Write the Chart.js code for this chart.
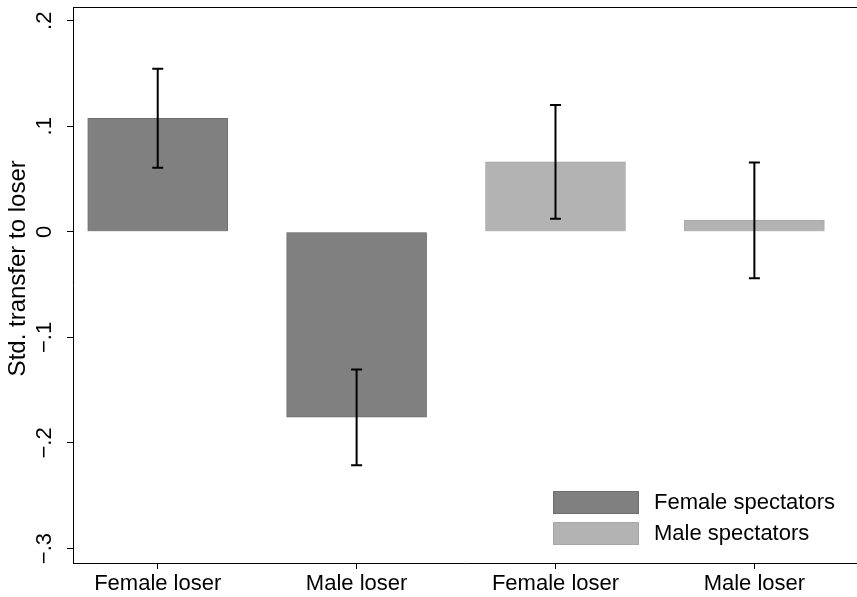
<!DOCTYPE html>
<html>
<head>
<meta charset="utf-8">
<script src="https://cdn.jsdelivr.net/npm/chart.js@4.4.0/dist/chart.umd.min.js"></script>
<style>
  body { margin: 0; background: #fff; overflow: hidden; }
</style>
</head>
<body>
<canvas id="myChart" width="857" height="597"></canvas>
<script>
const categories = ["Female loser", "Male loser", "Female loser", "Male loser"];
const seriesNames = ["Female spectators", "Male spectators"];
const femaleSpectators = [0.1076, -0.1755];
const maleSpectators = [0.0664, 0.0111];
const ciLow = [0.0607, -0.2211, 0.0123, -0.0439];
const ciHigh = [0.1544, -0.1303, 0.1202, 0.0658];
const yTicks = [-0.3, -0.2, -0.1, 0, 0.1, 0.2];
const yTickLabels = ["\u2212.3", "\u2212.2", "\u2212.1", "0", ".1", ".2"];

const darkGray = "#808080";
const lightGray = "#b3b3b3";

Chart.defaults.font.family = "'Liberation Sans', Arial, sans-serif";
Chart.defaults.color = "#000";

// error bars drawn on top of the bars
const errorBars = {
  id: "errorBars",
  afterDatasetsDraw(chart) {
    const ctx = chart.ctx;
    const xs = chart.scales.x;
    const ys = chart.scales.y;
    ctx.save();
    ctx.strokeStyle = "#000";
    ctx.lineWidth = 2;
    for (let i = 0; i < categories.length; i++) {
      const x = xs.getPixelForValue(i + 1);
      const lo = ys.getPixelForValue(ciLow[i]);
      const hi = ys.getPixelForValue(ciHigh[i]);
      ctx.beginPath();
      ctx.moveTo(x, lo);
      ctx.lineTo(x, hi);
      ctx.moveTo(x - 5.5, lo);
      ctx.lineTo(x + 5.5, lo);
      ctx.moveTo(x - 5.5, hi);
      ctx.lineTo(x + 5.5, hi);
      ctx.stroke();
    }
    ctx.restore();
  },
};

// top frame line + legend inside the plot
const frameAndLegend = {
  id: "frameAndLegend",
  afterDraw(chart) {
    const ctx = chart.ctx;
    const area = chart.chartArea;
    ctx.save();
    ctx.strokeStyle = "#000";
    ctx.lineWidth = 1;
    ctx.beginPath();
    ctx.moveTo(area.left, area.top + 0.5);
    ctx.lineTo(area.right, area.top + 0.5);
    ctx.stroke();

    const fills = [darkGray, lightGray];
    const borders = ["#6e6e6e", "#a6a6a6"];
    ctx.font = "22px 'Liberation Sans', Arial, sans-serif";
    ctx.textBaseline = "middle";
    ctx.textAlign = "left";
    for (let i = 0; i < seriesNames.length; i++) {
      const top = 491 + i * 31;
      ctx.fillStyle = fills[i];
      ctx.fillRect(553, top, 86, 23);
      ctx.strokeStyle = borders[i];
      ctx.strokeRect(553.5, top + 0.5, 85, 22);
      ctx.fillStyle = "#000";
      ctx.fillText(seriesNames[i], 654, top + 12);
    }
    ctx.restore();
  },
};

const ctx = document.getElementById("myChart");
const myChart = new Chart(ctx, {
  type: "bar",
  data: {
    datasets: [
      {
        label: seriesNames[0],
        data: femaleSpectators.map((v, i) => ({ x: i + 1, y: v })),
        backgroundColor: darkGray,
        borderColor: "#6e6e6e",
        borderWidth: 1,
        barThickness: 140,
      },
      {
        label: seriesNames[1],
        data: maleSpectators.map((v, i) => ({ x: i + 3, y: v })),
        backgroundColor: lightGray,
        borderColor: "#a6a6a6",
        borderWidth: 1,
        barThickness: 140,
      },
    ],
  },
  options: {
    responsive: false,
    animation: false,
    grouped: false,
    layout: { padding: { top: 7, left: 0, right: 0, bottom: 0 } },
    plugins: {
      legend: { display: false },
      tooltip: { enabled: false },
    },
    scales: {
      x: {
        type: "linear",
        offset: false,
        min: 0.574,
        max: 4.516,
        afterBuildTicks: (s) => {
          s.ticks = categories.map((c, i) => ({ value: i + 1 }));
        },
        afterFit: (s) => {
          s.height = 34;
          s.paddingLeft = 0;
          s.paddingRight = 0;
        },
        grid: { offset: false, drawOnChartArea: false, drawTicks: true, tickLength: 6, color: "#000" },
        border: { display: true, color: "#000", width: 1 },
        ticks: {
          autoSkip: false,
          maxRotation: 0,
          padding: 2,
          font: { size: 22 },
          callback: (v) => categories[v - 1],
        },
      },
      y: {
        min: -0.3137,
        max: 0.213,
        afterBuildTicks: (s) => {
          s.ticks = yTicks.map((v) => ({ value: v }));
        },
        afterFit: (s) => {
          s.width = 73;
          s.paddingTop = 0;
          s.paddingBottom = 0;
        },
        grid: { drawOnChartArea: false, drawTicks: true, tickLength: 6, color: "#000" },
        border: { display: true, color: "#000", width: 1 },
        ticks: {
          minRotation: 90,
          maxRotation: 90,
          crossAlign: "center",
          padding: 6,
          font: { size: 22 },
          callback: (v) => yTickLabels[yTicks.indexOf(v)],
        },
        title: {
          display: true,
          text: "     Std. transfer to loser",
          font: { size: 24 },
          padding: { top: 4, bottom: 0 },
        },
      },
    },
  },
  plugins: [errorBars, frameAndLegend],
});
</script>
</body>
</html>
